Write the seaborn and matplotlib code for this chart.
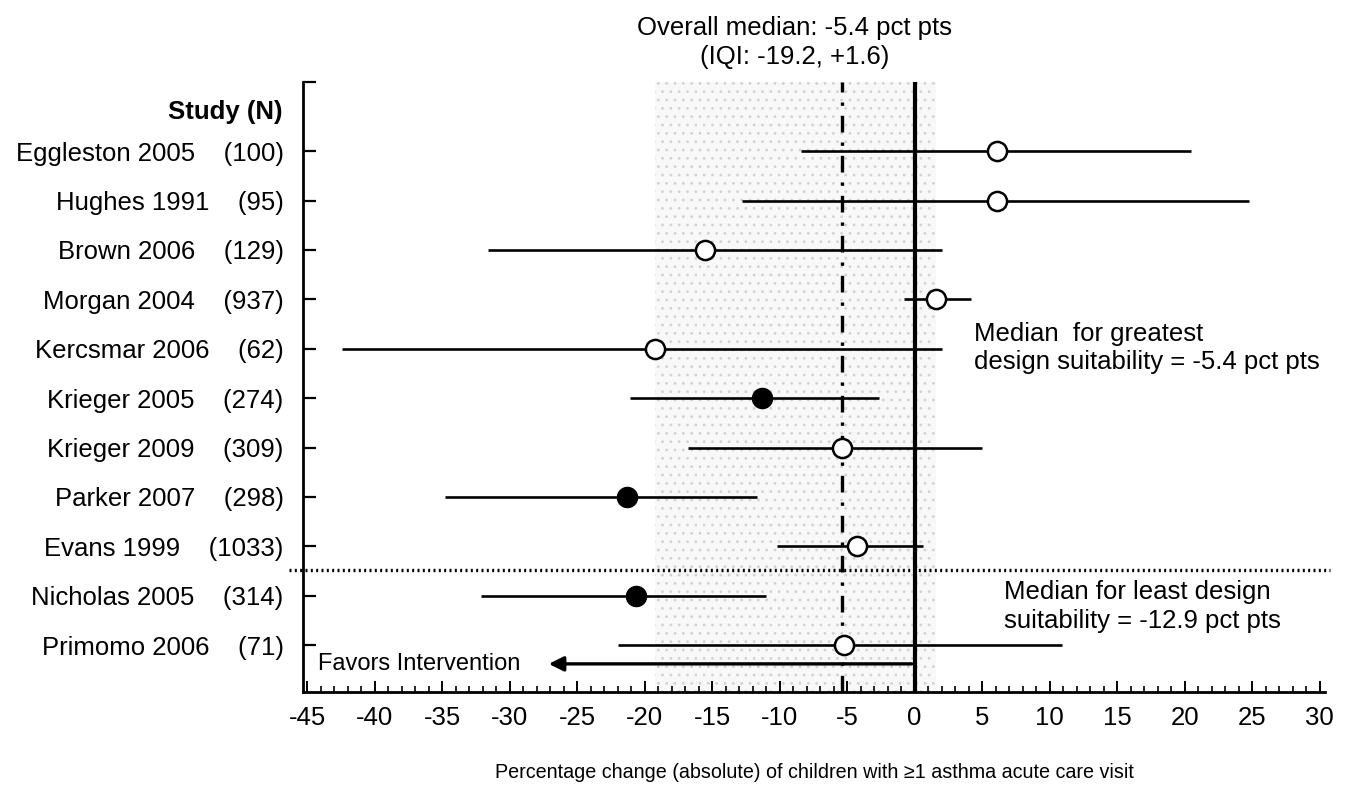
import numpy as np
import pandas as pd
import matplotlib
matplotlib.use('Agg')
import matplotlib.pyplot as plt
import seaborn as sns
from matplotlib.ticker import MultipleLocator

# =========================
# DATA
# =========================

studies = ['Eggleston 2005', 'Hughes 1991', 'Brown 2006', 'Morgan 2004', 'Kercsmar 2006',
           'Krieger 2005', 'Krieger 2009', 'Parker 2007', 'Evans 1999', 'Nicholas 2005',
           'Primomo 2006']
n_size = [100, 95, 129, 937, 62, 274, 309, 298, 1033, 314, 71]
effect = [6.1, 6.1, -15.5, 1.6, -19.2, -11.3, -5.4, -21.3, -4.3, -20.6, -5.2]
ci_low = [-8.4, -12.8, -31.6, -0.8, -42.4, -21.1, -16.8, -34.8, -10.2, -32.1, -22.0]
ci_high = [20.5, 24.8, 2.0, 4.2, 2.0, -2.6, 5.0, -11.7, 0.6, -11.0, 10.9]
filled = [False, False, False, False, False, True, False, True, False, True, False]

overall_median = -5.4
iqi = (-19.2, 1.6)

df = pd.DataFrame({
    'study': studies,
    'n': n_size,
    'effect': effect,
    'low': ci_low,
    'high': ci_high,
    'filled': filled,
})
df['row'] = np.arange(len(df))

# =========================
# STYLE
# =========================

sns.set_style('ticks')
plt.rcParams['font.family'] = ['Liberation Sans', 'DejaVu Sans']
plt.rcParams['axes.unicode_minus'] = False
plt.rcParams['text.color'] = 'black'
plt.rcParams['xtick.color'] = 'black'
plt.rcParams['ytick.color'] = 'black'
plt.rcParams['axes.edgecolor'] = 'black'
plt.rcParams['axes.labelcolor'] = 'black'
plt.rcParams['hatch.linewidth'] = 0.8
FS = 18.5

fig = plt.figure(figsize=(13.49, 7.89), dpi=100)
ax = fig.add_axes([0.2246, 0.1229, 0.7576, 0.7732])

# IQI shaded band (stippled)
ax.axvspan(iqi[0], iqi[1], facecolor='#f8f8f8', edgecolor='#d2d2d2',
           hatch='..', linewidth=0, zorder=0)

# zero line and overall median
ax.axvline(0, color='black', lw=3.0, zorder=2)
ax.axvline(overall_median, color='black', lw=2.4, ls=(0, (5, 3, 1, 3)), zorder=2)

# confidence intervals
ax.hlines(df['row'], df['low'], df['high'], color='black', lw=1.9, zorder=3)

# point estimates
sns.scatterplot(data=df[~df['filled']], x='effect', y='row', ax=ax, s=190,
                marker='o', facecolor='white', edgecolor='black', linewidth=1.8,
                zorder=4, legend=False)
sns.scatterplot(data=df[df['filled']], x='effect', y='row', ax=ax, s=210,
                marker='o', color='black', edgecolor='black', linewidth=1,
                zorder=4, legend=False)

# separator between design suitability groups
ax.plot([-46.3, 30.8], [8.48, 8.48], color='black', lw=2.4, ls=(0, (0.6, 1.0)),
        clip_on=False, zorder=3)

# axes limits / ticks
ax.set_xlim(-45.3, 30.4)
ax.set_ylim(10.95, -1.4)
ax.xaxis.set_major_locator(MultipleLocator(5))
ax.xaxis.set_minor_locator(MultipleLocator(1))
ax.tick_params(axis='x', which='major', direction='in', length=8, width=1.4,
               labelsize=FS, pad=10)
ax.tick_params(axis='x', which='minor', direction='in', length=4, width=1.2)

ax.set_yticks(list(df['row']) + [-1.4])
ax.set_yticklabels([f'{s}    ({n})' for s, n in zip(df['study'], df['n'])] + [''],
                   fontsize=FS)
ax.tick_params(axis='y', direction='in', length=9, width=1.6, pad=14)

for side in ['top', 'right']:
    ax.spines[side].set_visible(False)
ax.spines['left'].set_linewidth(2.0)
ax.spines['bottom'].set_linewidth(2.0)

ax.set_xlabel('Percentage change (absolute) of children with \u22651 asthma acute care visit',
              fontsize=14.2, labelpad=24)
ax.set_ylabel('')

# header for study column
ax.text(-0.0196, -0.79, 'Study (N)', transform=ax.get_yaxis_transform(),
        ha='right', va='center', fontsize=FS, fontweight='bold')

# overall median title
ax.text(-8.9, -2.49, 'Overall median: -5.4 pct pts', ha='center', va='center',
        fontsize=FS, clip_on=False)
ax.text(-8.9, -1.9, '(IQI: -19.2, +1.6)', ha='center', va='center',
        fontsize=FS, clip_on=False)

# group medians
ax.text(4.4, 3.99, 'Median  for greatest\ndesign suitability = -5.4 pct pts',
        ha='left', va='center', fontsize=FS, linespacing=1.2)
ax.text(6.6, 9.22, 'Median for least design\nsuitability = -12.9 pct pts',
        ha='left', va='center', fontsize=FS, linespacing=1.3)

# favors intervention arrow
ax.annotate('', xy=(-27.3, 10.38), xytext=(0, 10.38),
            arrowprops=dict(arrowstyle='-|>', color='black', lw=2.4,
                            mutation_scale=22))
ax.text(-44.2, 10.38, 'Favors Intervention', ha='left', va='center', fontsize=17)

fig.savefig('out.png', dpi=100)
